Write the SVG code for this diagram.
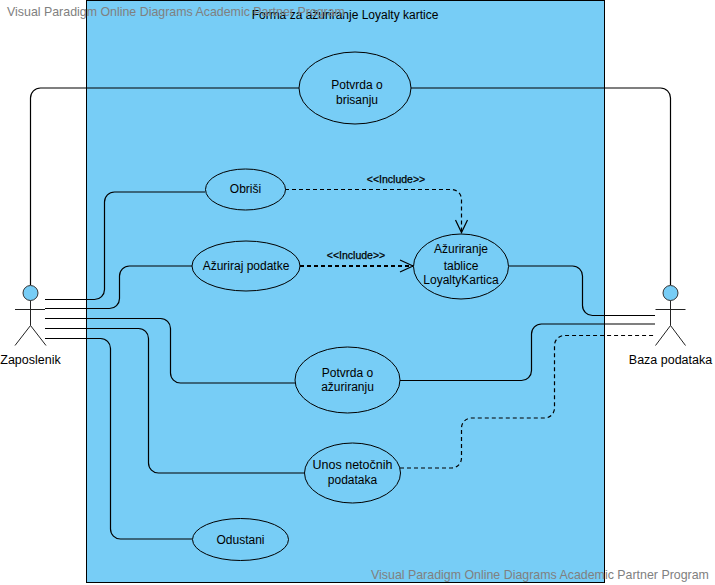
<svg xmlns="http://www.w3.org/2000/svg" width="715" height="585" viewBox="0 0 715 585">
<style>
text{font-family:"Liberation Sans",Arial,sans-serif;font-size:12px;fill:#000;text-anchor:middle}
.wm{fill:#808080;text-anchor:start;font-size:12.4px}
.inc{font-size:10.500px;stroke:#000;stroke-width:.25}
.uc{fill:#77cdf6;stroke:#000;stroke-width:1}
.c{fill:none;stroke:#000;stroke-width:1.2}
.d{stroke-dasharray:4 3}
.t{stroke-width:1.800}
.ah{fill:none;stroke:#000;stroke-width:1.2}
.a{fill:none;stroke:#222;stroke-width:1}
.w{font-size:12.500px}
</style>
<g id="system">
<rect x="86.500" y="0.500" width="518" height="582" fill="#77cdf6" stroke="#000" stroke-width="1"/>
<text x="345" y="19">Forma za ažuriranje Loyalty kartice</text>
</g>
<text class="wm" x="7" y="16">Visual Paradigm Online Diagrams Academic Partner Program</text>
<g id="connectors">
<path class="c" d="M30.500 285V98a10 10 0 0 1 10-10H299"/>
<path class="c" d="M45 299.500H94.500a10 10 0 0 0 10-10V202a10 10 0 0 1 10-10H205"/>
<path class="c" d="M45 308.500H109.500a10 10 0 0 0 10-10V276a10 10 0 0 1 10-10H192"/>
<path class="c" d="M45 318.500H160.500a10 10 0 0 1 10 10V373a10 10 0 0 0 10 10H295"/>
<path class="c" d="M45 328.500H138.500a10 10 0 0 1 10 10V463a10 10 0 0 0 10 10H304"/>
<path class="c" d="M45 338.500H100.500a10 10 0 0 1 10 10V529a10 10 0 0 0 10 10H192"/>
<path class="c" d="M411 88H660.500a10 10 0 0 1 10 10V285"/>
<path class="c" d="M509 266H572.500a10 10 0 0 1 10 10V305.500a10 10 0 0 0 10 10H655"/>
<path class="c" d="M400 380.500H521.500a10 10 0 0 0 10-10V334a10 10 0 0 1 10-10H655"/>
<path class="c d" d="M400 468H451.500a10 10 0 0 0 10-10V428a10 10 0 0 1 10-10H544.500a10 10 0 0 0 10-10V345.500a10 10 0 0 1 10-10H655"/>
<path class="c d" d="M285 189.500H451.500a10 10 0 0 1 10 10V232"/>
<path class="ah" d="M455.500 220 L461.500 232.500 L467.500 220"/>
<path class="c d t" d="M300 266H413"/>
<path class="ah" d="M400 260 L413 266 L400 272"/>
</g>
<text class="inc" x="396" y="183">&lt;&lt;Include&gt;&gt;</text>
<text class="inc" x="356" y="259">&lt;&lt;Include&gt;&gt;</text>
<g id="uc-brisanje"><ellipse class="uc" cx="355" cy="88" rx="56" ry="36"/><text x="357" y="89">Potvrda o</text><text x="357" y="104">brisanju</text></g>
<g id="uc-obrisi"><ellipse class="uc" cx="245.500" cy="189.500" rx="40" ry="20.500"/><text x="245.500" y="193">Obriši</text></g>
<g id="uc-azuriraj"><ellipse class="uc" cx="246" cy="266" rx="54" ry="25"/><text x="246" y="270">Ažuriraj podatke</text></g>
<g id="uc-tablice"><ellipse class="uc" cx="461" cy="266.500" rx="47.500" ry="32.500"/><text x="461" y="253">Ažuriranje</text><text x="461" y="269.500">tablice</text><text x="461" y="284">LoyaltyKartica</text></g>
<g id="uc-potvrda"><ellipse class="uc" cx="347.500" cy="380" rx="52.500" ry="33"/><text x="347.500" y="376.500">Potvrda o</text><text x="347.500" y="391">ažuriranju</text></g>
<g id="uc-unos"><ellipse class="uc" cx="352.500" cy="473" rx="48" ry="30"/><text class="w" x="352.500" y="468.500">Unos netočnih</text><text x="352.500" y="484">podataka</text></g>
<g id="uc-odustani"><ellipse class="uc" cx="240.500" cy="539.500" rx="48" ry="21"/><text x="240.500" y="544">Odustani</text></g>
<g id="actor-zaposlenik"><circle cx="30.500" cy="293" r="7.500" fill="#77cdf6" stroke="#333"/><path class="a" d="M30.500 300.500V325.500M15 309.500H45M15 345.500L30.500 325.500L46 345.500"/><text class="w" x="30.500" y="364">Zaposlenik</text></g>
<g id="actor-baza"><circle cx="670.500" cy="293" r="7.500" fill="#77cdf6" stroke="#333"/><path class="a" d="M670.500 300.500V325.500M655.500 309.500H685.500M655.500 345.500L670.500 325.500L685.500 345.500"/><text class="w" x="670.500" y="364">Baza podataka</text></g>
<text class="wm" x="371" y="579">Visual Paradigm Online Diagrams Academic Partner Program</text>
</svg>
